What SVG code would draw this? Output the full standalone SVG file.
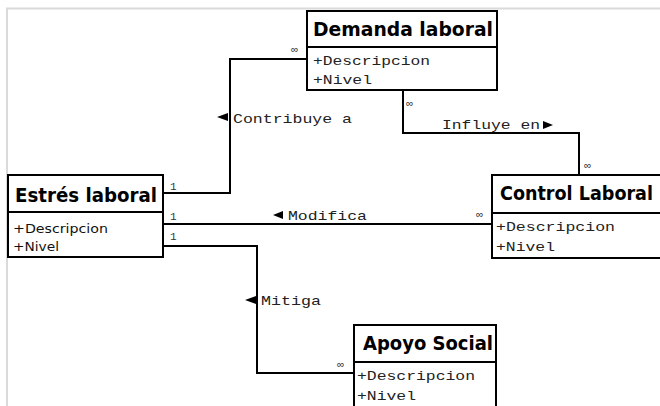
<svg xmlns="http://www.w3.org/2000/svg" width="660" height="406" viewBox="0 0 660 406">
<style>
.frame{stroke:#dadada;stroke-width:2;fill:none}
.box{fill:#fff;stroke:#000;stroke-width:2}
.sep{stroke:#000;stroke-width:2}
.conn{fill:none;stroke:#000;stroke-width:2}
.hd{font-family:"DejaVu Sans","Liberation Sans",sans-serif;font-weight:bold;font-size:19px;fill:#000}
.mono{font-family:"Liberation Mono","DejaVu Sans Mono",monospace;font-size:13px;fill:#222}
.sans{font-family:"DejaVu Sans","Liberation Sans",sans-serif;font-size:13px;fill:#111}
.lbl{font-family:"Liberation Mono","DejaVu Sans Mono",monospace;font-size:13px;fill:#222}
.mult{font-family:"Liberation Mono","DejaVu Sans Mono",monospace;font-size:11px;fill:#333}
.tri{fill:#000}
</style>
<rect width="660" height="406" fill="#fff"/>
<path class="frame" d="M7,406 V8.5 H660"/>
<g id="connectors">
<path class="conn" d="M163,193 H230 V59 H307"/>
<path class="conn" d="M403,90 V133 H579 V175"/>
<path class="conn" d="M163,224 H492"/>
<path class="conn" d="M163,246 H257 V373 H354"/>
<polygon class="tri" points="217,117 228,113 228,121"/>
<text class="lbl" x="233" y="123" textLength="119" lengthAdjust="spacingAndGlyphs">Contribuye a</text>
<text class="lbl" x="442" y="129" textLength="98" lengthAdjust="spacingAndGlyphs">Influye en</text>
<polygon class="tri" points="553,125 543,121 543,129"/>
<polygon class="tri" points="273,215 283,211 283,219"/>
<text class="lbl" x="288" y="220" textLength="79" lengthAdjust="spacingAndGlyphs">Modifica</text>
<polygon class="tri" points="245,300 256,296 256,304"/>
<text class="lbl" x="261" y="305" textLength="60" lengthAdjust="spacingAndGlyphs">Mitiga</text>
<text class="mult" x="170" y="190">1</text>
<text class="mult" x="291" y="53">∞</text>
<text class="mult" x="406" y="107">∞</text>
<text class="mult" x="584" y="169">∞</text>
<text class="mult" x="170" y="220">1</text>
<text class="mult" x="476" y="218">∞</text>
<text class="mult" x="170" y="240">1</text>
<text class="mult" x="337" y="368">∞</text>
</g>
<g id="demanda-laboral">
<rect class="box" x="307" y="11" width="190" height="79"/>
<line class="sep" x1="307" y1="47" x2="497" y2="47"/>
<text class="hd" x="313" y="36" textLength="180" lengthAdjust="spacingAndGlyphs">Demanda laboral</text>
<text class="mono" x="313" y="65" textLength="117" lengthAdjust="spacingAndGlyphs">+Descripcion</text>
<text class="mono" x="313" y="84" textLength="59" lengthAdjust="spacingAndGlyphs">+Nivel</text>
</g>
<g id="estres-laboral">
<rect class="box" x="8" y="175" width="155" height="82"/>
<line class="sep" x1="8" y1="212" x2="163" y2="212"/>
<text class="hd" x="15" y="202" textLength="142" lengthAdjust="spacingAndGlyphs">Estrés laboral</text>
<text class="sans" x="13" y="233" textLength="95" lengthAdjust="spacingAndGlyphs">+Descripcion</text>
<text class="sans" x="13" y="251" textLength="46" lengthAdjust="spacingAndGlyphs">+Nivel</text>
</g>
<g id="control-laboral">
<rect class="box" x="492" y="175" width="170" height="83"/>
<line class="sep" x1="492" y1="213" x2="662" y2="213"/>
<text class="hd" x="500" y="200" textLength="153" lengthAdjust="spacingAndGlyphs">Control Laboral</text>
<text class="mono" x="496" y="231" textLength="119" lengthAdjust="spacingAndGlyphs">+Descripcion</text>
<text class="mono" x="496" y="251" textLength="59" lengthAdjust="spacingAndGlyphs">+Nivel</text>
</g>
<g id="apoyo-social">
<rect class="box" x="354" y="325" width="142" height="90"/>
<line class="sep" x1="354" y1="362" x2="496" y2="362"/>
<text class="hd" x="363" y="350" textLength="130" lengthAdjust="spacingAndGlyphs">Apoyo Social</text>
<text class="mono" x="357" y="380" textLength="118" lengthAdjust="spacingAndGlyphs">+Descripcion</text>
<text class="mono" x="357" y="400" textLength="59" lengthAdjust="spacingAndGlyphs">+Nivel</text>
</g>
</svg>
